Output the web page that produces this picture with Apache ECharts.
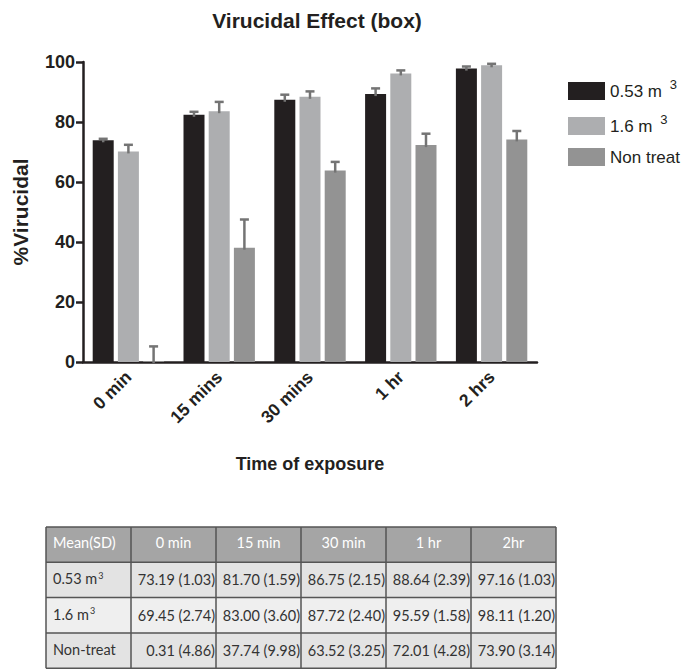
<!DOCTYPE html>
<html>
<head>
<meta charset="utf-8">
<style>
html,body{margin:0;padding:0;background:#fff;}
#chart{width:685px;height:669px;}
</style>
<script src="https://cdn.jsdelivr.net/npm/echarts@6/dist/echarts.min.js"></script>
</head>
<body>
<div id="chart"></div>
<script>
// ---- data ----
const categories = ['0 min', '15 mins', '30 mins', '1 hr', '2 hrs'];
const seriesNames = ['0.53 m3', '1.6 m3', 'Non treat'];
const vals053 = [73.9, 82.4, 87.4, 89.3, 97.8];
const vals16 = [70.2, 83.6, 88.4, 96.2, 98.9];
const valsNon = [0.3, 38.1, 63.8, 72.3, 74.2];
const err053 = [0.5, 1.0, 1.7, 1.9, 0.7];
const err16 = [2.2, 3.1, 1.8, 1.0, 0.5];
const errNon = [4.9, 9.4, 2.9, 3.8, 2.8];
const yTicks = [0, 20, 40, 60, 80, 100];

// table
const tableHeader = ['Mean(SD)', '0 min', '15 min', '30 min', '1 hr', '2hr'];
const tableRowLabels = ['0.53 m3', '1.6 m3', 'Non-treat'];
const tableMean053 = ['73.19', '81.70', '86.75', '88.64', '97.16'];
const tableSD053 = ['1.03', '1.59', '2.15', '2.39', '1.03'];
const tableMean16 = ['69.45', '83.00', '87.72', '95.59', '98.11'];
const tableSD16 = ['2.74', '3.60', '2.40', '1.58', '1.20'];
const tableMeanNon = ['0.31', '37.74', '63.52', '72.01', '73.90'];
const tableSDNon = ['4.86', '9.98', '3.25', '4.28', '3.14'];

// ---- styling / layout ----
const colors = ['#231f20', '#adaeb0', '#939393'];
const errColor = '#747474';
const barWidth = 21;
const barGapPct = 0.2;
const step = barWidth * (1 + barGapPct);
const offsets = [-step, 0, step];
const font = 'Liberation Sans, Arial, sans-serif';

const chart = echarts.init(document.getElementById('chart'), null, {renderer: 'svg'});

const barVals = [vals053, vals16, valsNon];
const errVals = [err053, err16, errNon];

function errSeries(k) {
  return {
    type: 'custom',
    name: 'err' + k,
    z: 5,
    silent: true,
    encode: {x: 0, y: 1},
    data: categories.map((c, i) => [i, barVals[k][i], errVals[k][i]]),
    renderItem: function (params, api) {
      const i = api.value(0), v = api.value(1), e = api.value(2);
      const p0 = api.coord([i, v]);
      const p1 = api.coord([i, v + e]);
      const x = p0[0] + offsets[k];
      const st = {stroke: errColor, lineWidth: 2.5};
      return {
        type: 'group',
        children: [
          {type: 'line', shape: {x1: x, y1: p0[1] + 2, x2: x, y2: p1[1]}, style: st},
          {type: 'line', shape: {x1: x - 4.5, y1: p1[1], x2: x + 4.5, y2: p1[1]}, style: st}
        ]
      };
    }
  };
}

// ---- table as graphic elements ----
const tblLeft = 46, tblTop = 527, colW = 85, rowH = 35.3;
const tableMeans = [tableMean053, tableMean16, tableMeanNon];
const tableSDs = [tableSD053, tableSD16, tableSDNon];
const rowBg = ['#e3e3e3', '#efefef', '#e3e3e3'];
const tblFont = 'Lato, "Open Sans", sans-serif';
const graphics = [];
graphics.push({type: 'rect', shape: {x: tblLeft, y: tblTop, width: colW * 6, height: rowH}, style: {fill: '#a5a5a5'}});
for (let r = 0; r < 3; r++) {
  graphics.push({type: 'rect', shape: {x: tblLeft, y: tblTop + rowH * (r + 1), width: colW * 6, height: rowH}, style: {fill: rowBg[r]}});
}
tableHeader.forEach((h, c) => {
  graphics.push({
    type: 'text',
    style: {
      text: h, x: c === 0 ? tblLeft + 7 : tblLeft + colW * c + colW / 2, y: tblTop + rowH / 2 - 2,
      align: c === 0 ? 'left' : 'center', verticalAlign: 'middle',
      fill: '#ffffff', font: '14.5px ' + tblFont
    }
  });
});
tableRowLabels.forEach((lab, r) => {
  const cy = tblTop + rowH * (r + 1) + rowH / 2;
  let richLabel = lab.replace(/m3$/, 'm{sup|3}');
  graphics.push({
    type: 'text',
    style: {
      text: richLabel, x: tblLeft + 7, y: cy - 1,
      align: 'left', verticalAlign: 'middle', fill: '#333333', font: '14.5px ' + tblFont,
      rich: {sup: {fontSize: 9, fontFamily: tblFont, fill: '#333333', padding: [0, 0, 7, 1]}}
    }
  });
  for (let c = 0; c < 5; c++) {
    graphics.push({
      type: 'text',
      style: {
        text: tableMeans[r][c] + ' (' + tableSDs[r][c] + ')',
        x: tblLeft + colW * (c + 2) - 1, y: cy,
        align: 'right', verticalAlign: 'middle', fill: '#333333', font: '14.5px ' + tblFont
      }
    });
  }
});
const lineStyle = {stroke: '#555555', lineWidth: 1.5};
for (let r = 0; r <= 4; r++) {
  graphics.push({type: 'line', shape: {x1: tblLeft, y1: tblTop + rowH * r, x2: tblLeft + colW * 6, y2: tblTop + rowH * r}, style: lineStyle});
}
for (let c = 0; c <= 6; c++) {
  graphics.push({type: 'line', shape: {x1: tblLeft + colW * c, y1: tblTop, x2: tblLeft + colW * c, y2: tblTop + rowH * 4}, style: lineStyle});
}

const legendText = {
  '0.53 m3': '{t|0.53 m }{sup|3}',
  '1.6 m3': '{t|1.6 m }{sup|3}',
  'Non treat': '{t|Non treat}'
};

const option = {
  backgroundColor: '#ffffff',
  animation: false,
  title: {
    text: 'Virucidal Effect (box)',
    left: 312, top: 5, textAlign: 'center',
    textStyle: {fontFamily: font, fontSize: 21, fontWeight: 'bold', color: '#231f20'}
  },
  legend: {
    data: seriesNames,
    orient: 'vertical',
    left: 563, top: 73,
    itemWidth: 37, itemHeight: 18, itemGap: 13,
    icon: 'rect',
    formatter: n => legendText[n],
    textStyle: {
      color: '#231f20',
      rich: {
        t: {fontFamily: font, fontSize: 17, color: '#231f20'},
        sup: {fontFamily: font, fontSize: 13, color: '#231f20', padding: [0, 0, 13, 3]}
      }
    }
  },
  grid: {left: 83, right: 148, top: 62, bottom: 307, containLabel: false},
  xAxis: {
    type: 'category',
    data: categories,
    name: 'Time of exposure',
    nameLocation: 'middle',
    nameGap: 93,
    nameTextStyle: {fontFamily: font, fontSize: 18, fontWeight: 'bold', color: '#231f20'},
    axisLine: {lineStyle: {color: '#231f20', width: 2.5}},
    axisTick: {alignWithLabel: true, length: 8, lineStyle: {width: 2.5, color: '#231f20'}},
    axisLabel: {rotate: 45, margin: 12, fontFamily: font, fontSize: 17.5, fontWeight: 'bold', color: '#231f20'}
  },
  yAxis: {
    type: 'value',
    min: yTicks[0], max: yTicks[yTicks.length - 1], interval: yTicks[1] - yTicks[0],
    name: '%Virucidal',
    nameLocation: 'middle',
    nameGap: 52,
    nameTextStyle: {fontFamily: font, fontSize: 21, fontWeight: 'bold', color: '#231f20'},
    axisLine: {show: true, lineStyle: {color: '#231f20', width: 2.5}},
    axisTick: {show: true, length: 7, lineStyle: {width: 2.5, color: '#231f20'}},
    axisLabel: {margin: 8, fontFamily: font, fontSize: 18, fontWeight: 'bold', color: '#231f20'},
    splitLine: {show: false}
  },
  series: [
    {type: 'bar', name: seriesNames[0], data: vals053, barWidth: barWidth, barGap: (barGapPct * 100) + '%', itemStyle: {color: colors[0]}},
    {type: 'bar', name: seriesNames[1], data: vals16, barWidth: barWidth, barGap: (barGapPct * 100) + '%', itemStyle: {color: colors[1]}},
    {type: 'bar', name: seriesNames[2], data: valsNon, barWidth: barWidth, barGap: (barGapPct * 100) + '%', itemStyle: {color: colors[2]}},
    errSeries(0), errSeries(1), errSeries(2)
  ],
  graphic: graphics
};
chart.setOption(option);
</script>
</body>
</html>
